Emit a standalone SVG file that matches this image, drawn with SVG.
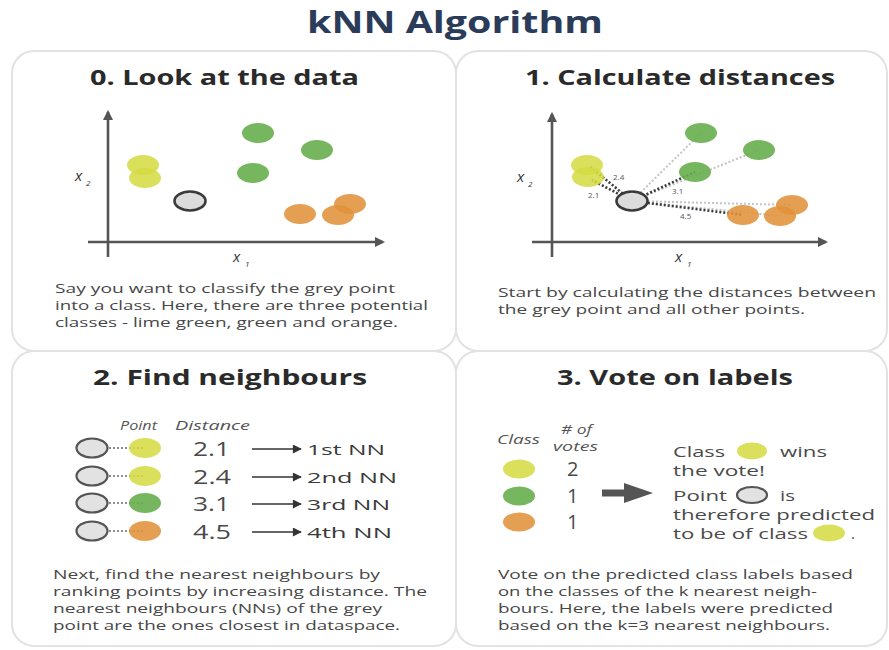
<svg xmlns="http://www.w3.org/2000/svg" width="889" height="650" viewBox="0 0 889 650">
  <defs>
    <style>
      text { font-family: "Open Sans", "Liberation Sans", sans-serif; }
      .title { font-size: 30px; font-weight: 700; fill: #2b3c5a; }
      .ptitle { font-size: 21px; font-weight: 700; fill: #2a2a2a; }
      .body { font-size: 13px; fill: #474747; }
      .ax { font-size: 15px; font-style: italic; fill: #333; }
      .sub { font-size: 8px; font-style: italic; fill: #333; }
      .dist { font-size: 8px; fill: #555; }
      .hdr { font-size: 12px; font-style: italic; fill: #555; }
      .num { font-size: 20px; fill: #4a4a4a; }
      .nn { font-size: 15px; fill: #3a3a3a; }
      .vote { font-size: 15px; fill: #4a4a4a; }
      .panel { fill: #ffffff; stroke: #e2e2e2; stroke-width: 2; }
      .axis { stroke: #555; stroke-width: 2.6; fill: none; }
      .lime { fill: #d3db3f; fill-opacity: 0.85; }
      .green { fill: #67ae4c; fill-opacity: 0.9; }
      .orange { fill: #e1923a; fill-opacity: 0.88; }
      .grey { fill: #dcdcdc; stroke: #3a3a3a; stroke-width: 2.6; }
      .grey2 { fill: #e2e2e2; stroke: #555; stroke-width: 2.2; }
      .dotdark { stroke: #3a3a3a; stroke-width: 2.6; stroke-dasharray: 2 2; fill: none; }
      .dotlight { stroke: #c4c4c4; stroke-width: 2; stroke-dasharray: 2 2; fill: none; }
      .dotshort { stroke: #6a6a6a; stroke-width: 1.6; stroke-dasharray: 2 2; fill: none; }
      .arr { stroke: #333; stroke-width: 1.5; fill: none; }
    </style>
    <marker id="axhead" viewBox="0 0 10 10" refX="8" refY="5" markerWidth="4" markerHeight="4" orient="auto" markerUnits="strokeWidth">
      <path d="M0,0 L10,5 L0,10 z" fill="#555"/>
    </marker>
    <marker id="nnhead" viewBox="0 0 10 10" refX="9" refY="5" markerWidth="7" markerHeight="6" orient="auto" markerUnits="strokeWidth">
      <path d="M0,0 L10,5 L0,10 z" fill="#333"/>
    </marker>
  </defs>

  <rect width="889" height="650" fill="#ffffff"/>

  <text class="title" x="455" y="33" text-anchor="middle" textLength="296" lengthAdjust="spacingAndGlyphs">kNN Algorithm</text>

  <!-- Panel frames -->
  <g id="frames">
    <rect class="panel" x="12" y="51" width="444" height="300" rx="22"/>
    <rect class="panel" x="456" y="51" width="431" height="300" rx="22"/>
    <rect class="panel" x="12" y="351" width="444" height="295" rx="22"/>
    <rect class="panel" x="456" y="351" width="431" height="295" rx="22"/>
  </g>

  <!-- Step 0 -->
  <g id="step0">
    <text class="ptitle" x="90" y="85" textLength="269" lengthAdjust="spacingAndGlyphs">0. Look at the data</text>
    <line class="axis" x1="108" y1="257" x2="108" y2="112" marker-end="url(#axhead)"/>
    <line class="axis" x1="88" y1="242" x2="383" y2="242" marker-end="url(#axhead)"/>
    <text class="ax" x="75" y="181">x</text><text class="sub" x="86" y="186">2</text>
    <text class="ax" x="233" y="262">x</text><text class="sub" x="245" y="267">1</text>
    <ellipse class="lime" cx="143" cy="165" rx="16" ry="10"/>
    <ellipse class="lime" cx="145" cy="178" rx="16" ry="10"/>
    <ellipse class="green" cx="258" cy="133" rx="16" ry="10"/>
    <ellipse class="green" cx="317" cy="150" rx="16" ry="10"/>
    <ellipse class="green" cx="253" cy="173" rx="16" ry="10"/>
    <ellipse class="orange" cx="300" cy="214" rx="16" ry="10"/>
    <ellipse class="orange" cx="338" cy="215" rx="16" ry="10"/>
    <ellipse class="orange" cx="350" cy="204" rx="16" ry="10"/>
    <ellipse class="grey" cx="190" cy="201" rx="15.5" ry="9.5"/>
    <text class="body" x="55" y="293" textLength="340" lengthAdjust="spacingAndGlyphs">Say you want to classify the grey point</text>
    <text class="body" x="55" y="310" textLength="373" lengthAdjust="spacingAndGlyphs">into a class. Here, there are three potential</text>
    <text class="body" x="55" y="327" textLength="343" lengthAdjust="spacingAndGlyphs">classes - lime green, green and orange.</text>
  </g>

  <!-- Step 1 -->
  <g id="step1">
    <text class="ptitle" x="525" y="85" textLength="310" lengthAdjust="spacingAndGlyphs">1. Calculate distances</text>
    <line class="axis" x1="552" y1="257" x2="552" y2="114" marker-end="url(#axhead)"/>
    <line class="axis" x1="532" y1="242" x2="826" y2="242" marker-end="url(#axhead)"/>
    <text class="ax" x="517" y="182">x</text><text class="sub" x="528" y="187">2</text>
    <text class="ax" x="675" y="262">x</text><text class="sub" x="687" y="267">1</text>
    <g id="distances">
      <line class="dotlight" x1="632" y1="201" x2="701" y2="133"/>
      <line class="dotlight" x1="632" y1="201" x2="759" y2="150"/>
      <line class="dotlight" x1="632" y1="201" x2="792" y2="205"/>
      <line class="dotlight" x1="632" y1="201" x2="780" y2="216"/>
      <line class="dotdark" x1="632" y1="201" x2="589" y2="166"/>
      <line class="dotdark" x1="632" y1="201" x2="592" y2="180"/>
      <line class="dotdark" x1="632" y1="201" x2="695" y2="172"/>
      <line class="dotdark" x1="632" y1="201" x2="743" y2="215"/>
    </g>
    <ellipse class="lime" cx="587" cy="165" rx="16" ry="10"/>
    <ellipse class="lime" cx="588" cy="177" rx="16" ry="10"/>
    <ellipse class="green" cx="701" cy="133" rx="16" ry="10"/>
    <ellipse class="green" cx="759" cy="150" rx="16" ry="10"/>
    <ellipse class="green" cx="695" cy="172" rx="16" ry="10"/>
    <ellipse class="orange" cx="743" cy="215" rx="16" ry="10"/>
    <ellipse class="orange" cx="780" cy="216" rx="16" ry="10"/>
    <ellipse class="orange" cx="792" cy="205" rx="16" ry="10"/>
    <ellipse class="grey" cx="632" cy="201" rx="15.5" ry="9.5"/>
    <text class="dist" x="613" y="180">2.4</text>
    <text class="dist" x="588" y="198">2.1</text>
    <text class="dist" x="672" y="194">3.1</text>
    <text class="dist" x="680" y="219">4.5</text>
    <text class="body" x="498" y="297" textLength="378" lengthAdjust="spacingAndGlyphs">Start by calculating the distances between</text>
    <text class="body" x="498" y="314" textLength="307" lengthAdjust="spacingAndGlyphs">the grey point and all other points.</text>
  </g>

  <!-- Step 2 -->
  <g id="step2">
    <text class="ptitle" x="93" y="385" textLength="274" lengthAdjust="spacingAndGlyphs">2. Find neighbours</text>
    <text class="hdr" x="120" y="430" textLength="37" lengthAdjust="spacingAndGlyphs">Point</text>
    <text class="hdr" x="175" y="430" textLength="75" lengthAdjust="spacingAndGlyphs">Distance</text>

    <g id="row1">
      <line class="dotshort" x1="109" y1="448" x2="145" y2="448"/>
      <ellipse class="grey2" cx="92" cy="448" rx="15.5" ry="9.5"/>
      <ellipse class="lime" cx="145" cy="448" rx="16" ry="10"/>
      <text class="num" x="193" y="456" textLength="37" lengthAdjust="spacingAndGlyphs">2.1</text>
      <line class="arr" x1="252" y1="449" x2="301" y2="449" marker-end="url(#nnhead)"/>
      <text class="nn" x="307" y="455" textLength="78" lengthAdjust="spacingAndGlyphs">1st NN</text>
    </g>
    <g id="row2">
      <line class="dotshort" x1="109" y1="476" x2="145" y2="476"/>
      <ellipse class="grey2" cx="92" cy="476" rx="15.5" ry="9.5"/>
      <ellipse class="lime" cx="145" cy="476" rx="16" ry="10"/>
      <text class="num" x="193" y="484" textLength="38" lengthAdjust="spacingAndGlyphs">2.4</text>
      <line class="arr" x1="252" y1="477" x2="301" y2="477" marker-end="url(#nnhead)"/>
      <text class="nn" x="307" y="483" textLength="90" lengthAdjust="spacingAndGlyphs">2nd NN</text>
    </g>
    <g id="row3">
      <line class="dotshort" x1="109" y1="503" x2="145" y2="503"/>
      <ellipse class="grey2" cx="92" cy="503" rx="15.5" ry="9.5"/>
      <ellipse class="green" cx="145" cy="503" rx="16" ry="10"/>
      <text class="num" x="193" y="511" textLength="37" lengthAdjust="spacingAndGlyphs">3.1</text>
      <line class="arr" x1="252" y1="504" x2="301" y2="504" marker-end="url(#nnhead)"/>
      <text class="nn" x="307" y="510" textLength="83" lengthAdjust="spacingAndGlyphs">3rd NN</text>
    </g>
    <g id="row4">
      <line class="dotshort" x1="109" y1="531" x2="145" y2="531"/>
      <ellipse class="grey2" cx="92" cy="531" rx="15.5" ry="9.5"/>
      <ellipse class="orange" cx="145" cy="531" rx="16" ry="10"/>
      <text class="num" x="193" y="539" textLength="38" lengthAdjust="spacingAndGlyphs">4.5</text>
      <line class="arr" x1="252" y1="532" x2="301" y2="532" marker-end="url(#nnhead)"/>
      <text class="nn" x="307" y="538" textLength="85" lengthAdjust="spacingAndGlyphs">4th NN</text>
    </g>

    <text class="body" x="53" y="579" textLength="327" lengthAdjust="spacingAndGlyphs">Next, find the nearest neighbours by</text>
    <text class="body" x="53" y="596" textLength="374" lengthAdjust="spacingAndGlyphs">ranking points by increasing distance. The</text>
    <text class="body" x="53" y="613" textLength="329" lengthAdjust="spacingAndGlyphs">nearest neighbours (NNs) of the grey</text>
    <text class="body" x="53" y="630" textLength="347" lengthAdjust="spacingAndGlyphs">point are the ones closest in dataspace.</text>
  </g>

  <!-- Step 3 -->
  <g id="step3">
    <text class="ptitle" x="557" y="385" textLength="236" lengthAdjust="spacingAndGlyphs">3. Vote on labels</text>
    <text class="hdr" x="497" y="444" textLength="43" lengthAdjust="spacingAndGlyphs">Class</text>
    <text class="hdr" x="561" y="434" textLength="31" lengthAdjust="spacingAndGlyphs"># of</text>
    <text class="hdr" x="553" y="451" textLength="45" lengthAdjust="spacingAndGlyphs">votes</text>

    <ellipse class="lime" cx="519" cy="469" rx="16" ry="9.5"/>
    <ellipse class="green" cx="519" cy="496" rx="16" ry="9.5"/>
    <ellipse class="orange" cx="519" cy="522" rx="16" ry="9.5"/>
    <text class="num" x="567" y="476">2</text>
    <text class="num" x="567" y="503">1</text>
    <text class="num" x="567" y="529">1</text>

    <path d="M602,489.5 L624,489.5 L624,483 L653,493 L624,503 L624,496.5 L602,496.5 Z" fill="#555"/>

    <text class="vote" x="673" y="457" textLength="52" lengthAdjust="spacingAndGlyphs">Class</text>
    <ellipse class="lime" cx="752" cy="451" rx="15" ry="8.5"/>
    <text class="vote" x="780" y="457" textLength="47" lengthAdjust="spacingAndGlyphs">wins</text>
    <text class="vote" x="673" y="476" textLength="92" lengthAdjust="spacingAndGlyphs">the vote!</text>
    <text class="vote" x="673" y="501" textLength="54" lengthAdjust="spacingAndGlyphs">Point</text>
    <ellipse class="grey2" cx="752" cy="495" rx="15" ry="8"/>
    <text class="vote" x="780" y="501" textLength="15" lengthAdjust="spacingAndGlyphs">is</text>
    <text class="vote" x="673" y="520" textLength="202" lengthAdjust="spacingAndGlyphs">therefore predicted</text>
    <text class="vote" x="673" y="539" textLength="135" lengthAdjust="spacingAndGlyphs">to be of class</text>
    <ellipse class="lime" cx="829" cy="533" rx="16" ry="8.5"/>
    <text class="vote" x="851" y="539">.</text>

    <text class="body" x="498" y="579" textLength="355" lengthAdjust="spacingAndGlyphs">Vote on the predicted class labels based</text>
    <text class="body" x="498" y="596" textLength="319" lengthAdjust="spacingAndGlyphs">on the classes of the k nearest neigh-</text>
    <text class="body" x="498" y="613" textLength="335" lengthAdjust="spacingAndGlyphs">bours. Here, the labels were predicted</text>
    <text class="body" x="498" y="630" textLength="332" lengthAdjust="spacingAndGlyphs">based on the k=3 nearest neighbours.</text>
  </g>
</svg>
